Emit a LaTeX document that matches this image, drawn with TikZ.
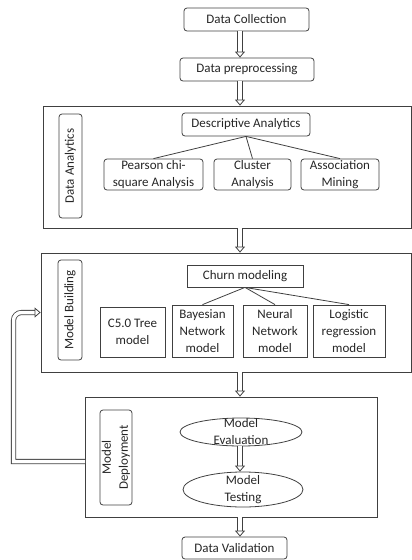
\documentclass[tikz,border=0pt]{standalone}
\usepackage{fontspec}
\setmainfont{Carlito}
\usetikzlibrary{shapes.geometric,arrows.meta,calc}

\tikzset{
  rbox/.style={draw,rounded corners=3pt,inner sep=0pt,align=center},
  sbox/.style={draw,inner sep=0pt,align=center},
  stage/.style={draw,inner sep=0pt},
  tag/.style={draw,rounded corners=3pt,rotate=90,inner sep=0pt,align=center},
  oval/.style={draw,ellipse,inner sep=0pt},
  flow/.style={double,double distance=3.5pt,-{Triangle[open,width=10pt,length=6pt]}},
}

\begin{document}
\begin{tikzpicture}[x=1pt,y=-1pt,line width=0.8pt,draw=black!75,text=black!85,font=\fontsize{13}{17}\selectfont]
                \useasboundingbox (0,0) rectangle (412,560);
                \coordinate (spine) at (240,0);
                \coordinate (loop) at (13.5,0);
                % top of the flow
                \node[rbox,minimum width=125,minimum height=23] (coll) at (246.5,19.5) {Data Collection};
                \node[rbox,minimum width=134,minimum height=23] (prep) at (247,69.5) {Data preprocessing};
                % data analytics stage
                \node[stage,minimum width=368,minimum height=122] (da) at (227,167) {};
                \node[tag,minimum width=104,minimum height=23] (datag) at (70.5,166) {Data Analytics};
                \node[rbox,minimum width=128,minimum height=23] (desc) at (246,124.5) {Descriptive Analytics};
                \node[rbox,minimum width=99,minimum height=31] (pear) at (153.5,174.5) {Pearson chi-\\square Analysis};
                \node[rbox,minimum width=77,minimum height=31] (clus) at (252.5,174.5) {Cluster\\Analysis};
                \node[rbox,minimum width=78,minimum height=31] (asso) at (340,174.5) {Association\\Mining};
                \draw (desc.south) -- (pear.north);
                \draw (desc.south) -- (clus.north);
                \draw (desc.south) -- (asso.north);
                % model building stage
                \node[stage,minimum width=370,minimum height=119] (mb) at (226,312.5) {};
                \node[tag,minimum width=100,minimum height=24] (mbtag) at (70,310) {Model Building};
                \node[sbox,minimum width=116,minimum height=22] (churn) at (245,276) {Churn modeling};
                \node[sbox,minimum width=65,minimum height=50] (cfive) at (132.5,332) {C5.0 Tree\\model};
                \node[sbox,minimum width=61,minimum height=52] (bayes) at (202.5,331) {Bayesian\\Network\\model};
                \node[sbox,minimum width=64,minimum height=52] (neur) at (275,331) {Neural\\Network\\model};
                \node[sbox,minimum width=72,minimum height=52] (logi) at (349,331) {Logistic\\regression\\model};
                \draw (churn.south) -- (bayes.north);
                \draw (churn.south) -- (neur.north);
                \draw (churn.south) -- (logi.north);
                % model deployment stage
                \node[stage,minimum width=292,minimum height=120] (md) at (231.5,457) {};
                \node[tag,minimum width=95,minimum height=32] (mdtag) at (116,457.5) {Model\\Deployment};
                \node[oval,minimum width=122,minimum height=28,label={[align=center]center:Model\\Evaluation}] (eval) at (241,432) {};
                \node[oval,minimum width=120,minimum height=35,label={[align=center]center:Model\\Testing}] (test) at (243,489.5) {};
                \node[rbox,minimum width=105,minimum height=22] (valid) at (234.5,548) {Data Validation};
                % arrows between the steps
                \draw[flow] (spine |- coll.south) -- (spine |- prep.north);
                \draw[flow] (spine |- prep.south) -- (spine |- da.north);
                \draw[flow] (spine |- da.south) -- (spine |- mb.north);
                \draw[flow] (spine |- mb.south) -- (spine |- md.north);
                \draw[flow] (spine |- eval.south) -- (spine |- test.north);
                \draw[flow] (spine |- md.south) -- (spine |- valid.north);
                % feedback from deployment to building
                \coordinate (fbout) at ([yshift=-4.5pt]md.west);
                \draw[flow] (fbout) -- (loop |- fbout) [rounded corners=8pt] -- (loop |- mb.west) -- (mb.west);
            \end{tikzpicture}
\end{document}
